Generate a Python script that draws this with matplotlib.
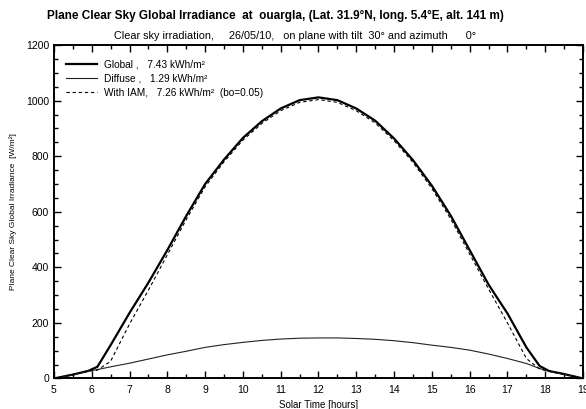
import matplotlib
matplotlib.use("Agg")
import matplotlib.pyplot as plt
from matplotlib.ticker import MultipleLocator

plt.rcParams['font.family'] = ['Liberation Sans', 'DejaVu Sans']

# Solar time [hours]
hours = [5, 5.5, 5.9, 6.15, 6.5, 7, 7.5, 8, 8.5, 9, 9.5, 10, 10.5, 11, 11.5, 12,
         12.5, 13, 13.5, 14, 14.5, 15, 15.5, 16, 16.5, 17, 17.5, 17.85, 18.1, 18.5, 19]

# Irradiance on the tilted plane [W/m²]
global_irr = [0, 14, 27, 42, 120, 236, 345, 462, 585, 700, 788, 866, 926, 972, 1002, 1012,
              1002, 972, 928, 864, 786, 694, 586, 462, 338, 234, 112, 45, 27, 16, 0]
diffuse_irr = [0, 14, 26, 32, 42, 55, 70, 85, 98, 112, 122, 130, 137, 142, 145, 146,
               146, 144, 141, 136, 129, 120, 112, 102, 88, 72, 54, 36, 26, 15, 0]
iam_irr = [0, 14, 26, 30, 62, 196, 318, 445, 572, 690, 780, 858, 918, 964, 994, 1004,
           994, 964, 920, 856, 778, 684, 574, 448, 322, 200, 72, 34, 26, 15, 0]

labels = ["Global ,   7.43 kWh/m²",
          "Diffuse ,   1.29 kWh/m²",
          "With IAM,   7.26 kWh/m²  (bo=0.05)"]

fig = plt.figure(figsize=(5.86, 4.09), dpi=100)
ax = fig.add_axes([0.092, 0.0746, 0.903, 0.815])

ax.plot(hours, global_irr, color='black', lw=1.6, label=labels[0])
ax.plot(hours, diffuse_irr, color='#222222', lw=0.8, label=labels[1])
ax.plot(hours, iam_irr, color='black', lw=0.8, ls=(0, (3, 2.5)), label=labels[2])

ax.set_xlim(5, 19)
ax.set_ylim(0, 1200)
ax.xaxis.set_major_locator(MultipleLocator(1))
ax.xaxis.set_minor_locator(MultipleLocator(0.5))
ax.yaxis.set_major_locator(MultipleLocator(200))
ax.yaxis.set_minor_locator(MultipleLocator(50))
ax.tick_params(which='both', direction='in', top=True, right=True, labelsize=7.5,
               width=1.0)
ax.tick_params(axis='x', which='major', pad=5)
ax.tick_params(which='major', length=5)
ax.tick_params(which='minor', length=3)
for sp in ax.spines.values():
    sp.set_linewidth(1.4)

ax.set_xlabel("Solar Time [hours]", fontsize=7, labelpad=3)
ax.set_ylabel("Plane Clear Sky Global Irradiance  [W/m²]", fontsize=6, labelpad=6)

leg = ax.legend(loc='upper left', frameon=False, fontsize=7.3, handlelength=3.1,
                handletextpad=0.65, labelspacing=0.4, borderaxespad=0.0,
                bbox_to_anchor=(0.015, 0.969))

fig.text(0.47, 0.962, "Plane Clear Sky Global Irradiance  at  ouargla, (Lat. 31.9°N, long. 5.4°E, alt. 141 m)",
         ha='center', va='center', fontsize=8.5, fontweight='bold')
fig.text(0.503, 0.912, "Clear sky irradiation,     26/05/10,   on plane with tilt  30° and azimuth      0°",
         ha='center', va='center', fontsize=7.8)

fig.savefig("out.png", dpi=100)
